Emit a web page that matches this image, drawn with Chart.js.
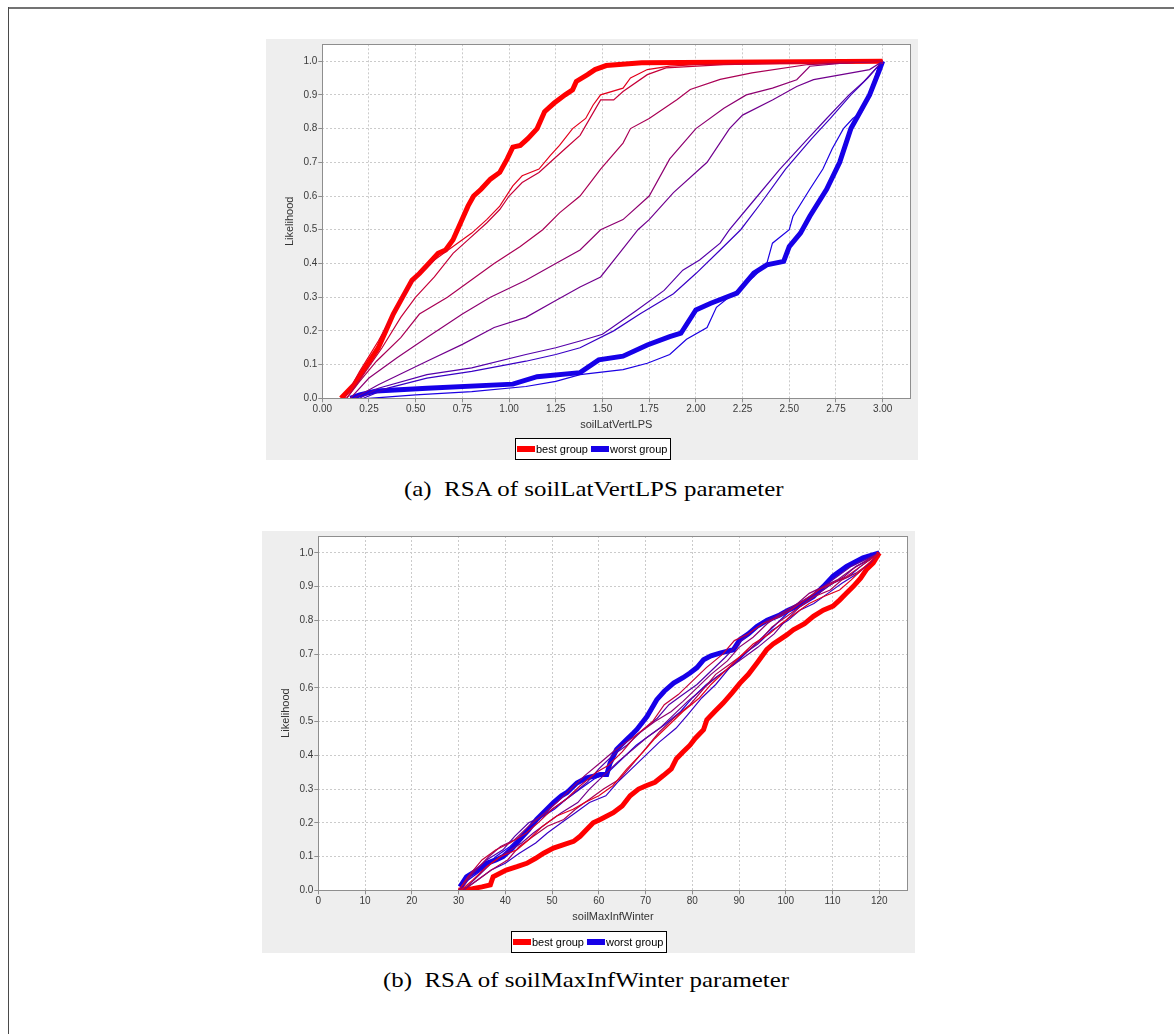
<!DOCTYPE html>
<html>
<head>
<meta charset="utf-8">
<title>RSA plots</title>
<script src="https://cdn.jsdelivr.net/npm/chart.js@4.4.1/dist/chart.umd.min.js"></script>
<style>
  html, body { margin: 0; padding: 0; background: #ffffff; }
  body { width: 1174px; height: 1034px; position: relative; overflow: hidden; }
  .rule-top { position: absolute; left: 8px; top: 7px; width: 1166px; height: 2px; background: #737373; }
  .rule-left { position: absolute; left: 8px; top: 7px; width: 1px; height: 1027px; background: #4a4a4a; }
  .panel { position: absolute; }
  .panel canvas { display: block; }
  .cap { position: absolute; white-space: nowrap; font-family: "Liberation Serif", "Times New Roman", serif;
         font-size: 22px; line-height: 22px; color: #000; transform-origin: left top; }
</style>
</head>
<body>
<div class="rule-top"></div>
<div class="rule-left"></div>

<div class="panel" style="left:266px; top:39px;"><canvas id="chartA" width="652" height="421"></canvas></div>
<div class="cap" id="capA" style="top:478px;">(a)&nbsp; RSA of soilLatVertLPS parameter</div>

<div class="panel" style="left:262px; top:531px;"><canvas id="chartB" width="653" height="422"></canvas></div>
<div class="cap" id="capB" style="top:969px;">(b)&nbsp; RSA of soilMaxInfWinter parameter</div>

<script>
// ---------- Panel (a): soilLatVertLPS, cumulative likelihood per group ----------
const aXTitle = 'soilLatVertLPS';
const aBestX  = [0.10,0.17,0.24,0.30,0.34,0.38,0.43,0.48,0.52,0.57,0.62,0.66,0.70,0.74,0.78,0.81,0.85,0.90,0.95,0.99,1.02,1.06,1.10,1.15,1.19,1.24,1.30,1.34,1.36,1.42,1.46,1.52,1.71,3.00];
const aBestY  = [0,0.04,0.10,0.15,0.20,0.25,0.30,0.35,0.37,0.40,0.43,0.44,0.47,0.52,0.57,0.60,0.62,0.65,0.67,0.71,0.745,0.75,0.77,0.80,0.85,0.875,0.90,0.915,0.94,0.96,0.975,0.987,0.995,1.0];
const aWorstX = [0.15,0.20,0.29,0.56,1.02,1.15,1.38,1.48,1.61,1.74,1.86,1.92,2.00,2.08,2.22,2.31,2.38,2.47,2.50,2.56,2.61,2.70,2.77,2.83,2.88,2.93,2.98,3.00];
const aWorstY = [0,0.01,0.022,0.03,0.042,0.064,0.076,0.114,0.125,0.158,0.183,0.193,0.262,0.282,0.312,0.371,0.396,0.406,0.45,0.49,0.54,0.62,0.70,0.80,0.85,0.90,0.97,1.0];
const aG2X = [0.12,0.20,0.30,0.40,0.45,0.50,0.60,0.70,0.80,0.88,0.95,1.02,1.07,1.16,1.22,1.27,1.34,1.41,1.45,1.49,1.61,1.65,1.74,1.86,2.00,2.50,3.00];
const aG2Y = [0,0.08,0.17,0.27,0.32,0.36,0.41,0.45,0.49,0.53,0.57,0.63,0.66,0.68,0.72,0.75,0.80,0.83,0.87,0.90,0.92,0.95,0.975,0.985,0.99,0.995,1.0];
const aG3X = [0.13,0.22,0.32,0.42,0.50,0.60,0.70,0.78,0.88,0.95,1.00,1.07,1.16,1.22,1.30,1.38,1.49,1.56,1.61,1.74,1.84,2.15,3.00];
const aG3Y = [0,0.07,0.15,0.24,0.30,0.36,0.43,0.47,0.52,0.56,0.60,0.64,0.67,0.70,0.74,0.78,0.885,0.885,0.91,0.96,0.98,0.99,1.0];
const aG4X = [0.13,0.20,0.29,0.42,0.52,0.67,0.77,0.92,1.06,1.18,1.27,1.38,1.49,1.61,1.65,1.75,1.90,1.97,2.13,2.30,2.60,3.00];
const aG4Y = [0,0.05,0.11,0.18,0.25,0.30,0.34,0.40,0.45,0.50,0.55,0.60,0.68,0.757,0.80,0.83,0.886,0.916,0.946,0.965,0.99,1.0];
const aG5X = [0.15,0.25,0.40,0.56,0.75,0.90,1.09,1.25,1.38,1.49,1.61,1.75,1.86,2.00,2.15,2.27,2.41,2.54,2.61,2.80,3.00];
const aG5Y = [0,0.06,0.12,0.18,0.25,0.30,0.35,0.40,0.44,0.50,0.53,0.60,0.71,0.80,0.86,0.90,0.92,0.945,0.985,0.995,1.0];
const aG6X = [0.17,0.30,0.56,0.75,0.92,1.09,1.25,1.38,1.49,1.59,1.69,1.75,1.88,2.06,2.18,2.25,2.41,2.54,2.63,2.93,3.00];
const aG6Y = [0,0.04,0.11,0.16,0.21,0.24,0.29,0.33,0.36,0.43,0.50,0.53,0.61,0.70,0.80,0.84,0.885,0.925,0.945,0.975,1.0];
const aG7X = [0.20,0.30,0.56,0.80,1.09,1.25,1.38,1.50,1.68,1.83,1.93,2.02,2.13,2.18,2.30,2.45,2.60,2.70,2.82,2.90,3.00];
const aG7Y = [0,0.03,0.07,0.09,0.13,0.15,0.17,0.19,0.26,0.32,0.38,0.41,0.46,0.50,0.58,0.68,0.77,0.83,0.90,0.94,1.0];
const aG8X = [0.22,0.35,0.56,0.80,1.09,1.25,1.38,1.56,1.70,1.88,2.00,2.13,2.24,2.35,2.48,2.62,2.72,2.83,2.92,3.00];
const aG8Y = [0,0.03,0.06,0.08,0.11,0.13,0.15,0.20,0.25,0.31,0.37,0.44,0.50,0.58,0.68,0.77,0.83,0.90,0.95,1.0];
const aG9X = [0.25,0.50,0.80,1.09,1.25,1.38,1.61,1.74,1.86,1.95,2.06,2.11,2.20,2.31,2.38,2.41,2.50,2.52,2.61,2.68,2.73,2.79,2.84,2.89,2.93,2.98,3.00];
const aG9Y = [0,0.01,0.02,0.035,0.05,0.07,0.085,0.104,0.13,0.175,0.21,0.27,0.31,0.36,0.40,0.46,0.50,0.54,0.62,0.68,0.74,0.80,0.83,0.85,0.90,0.99,1.0];

// ---------- Panel (b): soilMaxInfWinter ----------
const bXTitle = 'soilMaxInfWinter';
const bBestX  = [30,33,35,36.8,37.4,40.2,42.5,44.6,46.5,48.2,50.3,52.5,54.6,56,57.4,58.8,60.3,63.1,65,66.7,68.5,70.1,72,73.8,75.5,76.6,78,79.5,80.6,82.4,83.1,84.8,86.6,88.5,90.2,92,93.8,95.9,97.3,98.7,100.2,101.6,104,105.9,108,110.1,111.5,113,114.4,116,117.2,118.7,120];
const bBestY  = [0,0.005,0.01,0.016,0.04,0.06,0.07,0.08,0.095,0.11,0.125,0.135,0.145,0.16,0.18,0.20,0.21,0.23,0.25,0.28,0.30,0.31,0.32,0.34,0.36,0.39,0.41,0.43,0.45,0.476,0.505,0.53,0.555,0.585,0.614,0.64,0.673,0.713,0.73,0.743,0.757,0.772,0.79,0.812,0.83,0.842,0.86,0.881,0.90,0.925,0.95,0.97,1.0];
const bWorstX = [30.3,31.7,34,36,38,39.5,41.5,43.1,45,46.7,48.5,50.3,52,53.2,55.3,57.4,58.9,60.3,61.7,62.4,63.8,65.9,67.4,68.1,70.3,72.4,74,76,78,79.5,81,82.4,84,85.9,88.8,90.2,92,93.8,96,98.7,100.5,102.3,104,105.9,108,110.1,113,116.5,120];
const bWorstY = [0.01,0.04,0.06,0.08,0.09,0.10,0.125,0.15,0.18,0.21,0.235,0.26,0.28,0.29,0.318,0.333,0.338,0.343,0.343,0.377,0.417,0.446,0.466,0.476,0.515,0.565,0.59,0.614,0.63,0.644,0.66,0.683,0.695,0.703,0.713,0.743,0.76,0.782,0.80,0.816,0.83,0.841,0.855,0.871,0.90,0.931,0.96,0.985,1.0];
const bG2X = [30.5,33,36,39,42.5,45,48,51,54.5,57,60,63,66,69.5,72,75,78,81.5,84,87,90,93,96.5,99,102,105,108,111.5,114,117,120];
const bG2Y = [0,0.03,0.07,0.10,0.12,0.15,0.19,0.22,0.24,0.26,0.28,0.31,0.36,0.41,0.45,0.49,0.53,0.57,0.61,0.65,0.69,0.73,0.76,0.79,0.82,0.85,0.87,0.89,0.92,0.96,1.0];
const bG3X = [30,32,35,38,41,44.5,47,50,53,56,59.5,62,65,68,71.5,74,77,80,83,86.5,89,92,95,98.5,101,104,107,110,113,116,120];
const bG3Y = [0,0.04,0.09,0.12,0.14,0.17,0.20,0.24,0.27,0.31,0.35,0.37,0.41,0.46,0.50,0.55,0.58,0.62,0.66,0.70,0.74,0.76,0.79,0.81,0.83,0.86,0.89,0.91,0.93,0.96,1.0];
const bG4X = [31,34,37,40.5,43,46,49,52.5,55,58,61,64.5,67,70,73,76,79.5,82,85,88,91,94.5,97,100,103,106,109.5,112,115,118,120];
const bG4Y = [0,0.03,0.06,0.09,0.13,0.16,0.19,0.21,0.24,0.27,0.30,0.33,0.37,0.42,0.47,0.51,0.55,0.59,0.64,0.67,0.70,0.74,0.78,0.81,0.84,0.87,0.89,0.92,0.94,0.97,1.0];
const bG5X = [30,33,36.5,39,42,45,48.5,51,54,57,60.5,63,66,69,72,75.5,78,81,84,87.5,90,93,96,99,102.5,105,108,111,114,117.5,120];
const bG5Y = [0,0.05,0.10,0.13,0.15,0.19,0.23,0.26,0.30,0.34,0.38,0.41,0.44,0.47,0.50,0.53,0.56,0.60,0.64,0.68,0.72,0.75,0.79,0.82,0.85,0.88,0.90,0.92,0.95,0.98,1.0];
const bG6X = [31,34,37,40,43.5,46,49,52,55.5,58,61,64,67.5,70,73,76,79,82.5,85,88,91,94,97.5,100,103,106,109,112.5,115,118,120];
const bG6Y = [0,0.04,0.08,0.11,0.14,0.17,0.20,0.23,0.26,0.30,0.34,0.38,0.42,0.45,0.48,0.52,0.56,0.60,0.63,0.66,0.69,0.72,0.76,0.80,0.84,0.87,0.90,0.93,0.96,0.98,1.0];
const bG7X = [30.5,33,36,39.5,42,45,48,51,54,57.5,60,63,66,69,72.5,75,78,81,84,87,90.5,93,96,99,102,105.5,108,111,114,117,120];
const bG7Y = [0,0.05,0.09,0.12,0.16,0.20,0.22,0.25,0.28,0.32,0.36,0.40,0.43,0.47,0.51,0.55,0.58,0.61,0.65,0.69,0.74,0.77,0.80,0.82,0.84,0.87,0.90,0.93,0.96,0.98,1.0];
const bG8X = [31,34,37,40,43,46.5,49,52,55,58,61.5,64,67,70,73,76.5,79,82,85,88,91,94,97,100.5,103,106,109,112,115.5,118,120];
const bG8Y = [0,0.03,0.06,0.08,0.11,0.14,0.17,0.20,0.23,0.26,0.28,0.32,0.36,0.40,0.44,0.48,0.52,0.57,0.61,0.66,0.70,0.73,0.77,0.80,0.83,0.85,0.88,0.91,0.94,0.97,1.0];
const bG9X = [30,32,35,38,41,44,47,50.5,53,56,59,62,65,68,71,74,77.5,80,83,86,89,92,95,98,101,104,107,110,113.5,116,120];
const bG9Y = [0,0.03,0.06,0.10,0.13,0.17,0.21,0.24,0.27,0.30,0.33,0.35,0.39,0.43,0.46,0.49,0.53,0.57,0.61,0.64,0.67,0.71,0.75,0.79,0.83,0.86,0.88,0.91,0.93,0.96,1.0];

// Legend labels and group colours (best = red, worst = blue, intermediate groups blend)
const bestLabel  = 'best group';
const worstLabel = 'worst group';
const yTitle = 'Likelihood';
const BEST_COLOR  = 'rgb(255,0,0)';
const WORST_COLOR = 'rgb(22,0,232)';
const GROUP_COLORS = ['rgb(227,0,28)','rgb(198,0,57)','rgb(170,0,85)','rgb(142,0,113)',
                      'rgb(113,0,142)','rgb(85,0,170)','rgb(57,0,198)','rgb(28,0,227)'];

const SANS = "'Liberation Sans', Arial, Helvetica, sans-serif";

function toPoints(xs, ys) { return xs.map((x, i) => ({ x: x, y: ys[i] })); }

function makeDatasets(groups, best, worst) {
  const sets = [];
  groups.forEach((g, i) => sets.push({
    data: toPoints(g[0], g[1]), borderColor: GROUP_COLORS[i], borderWidth: 1.2
  }));
  sets.push({ label: bestLabel,  legend: true, data: toPoints(best[0], best[1]),   borderColor: BEST_COLOR,  borderWidth: 5 });
  sets.push({ label: worstLabel, legend: true, data: toPoints(worst[0], worst[1]), borderColor: WORST_COLOR, borderWidth: 5 });
  return sets;
}

// Grey panel, white plot area, plot outline and a boxed legend underneath
const panelPlugin = {
  id: 'panelFrame',
  beforeDraw(chart) {
    const { ctx, chartArea: a, width, height } = chart;
    ctx.save();
    ctx.fillStyle = '#eeeeee';
    ctx.fillRect(0, 0, width, height);
    ctx.fillStyle = '#ffffff';
    ctx.fillRect(a.left, a.top, a.right - a.left, a.bottom - a.top);
    ctx.restore();
  },
  afterDraw(chart) {
    const { ctx, chartArea: a, width, height } = chart;
    ctx.save();
    ctx.strokeStyle = '#8e8e8e';
    ctx.lineWidth = 1;
    ctx.strokeRect(Math.round(a.left) + 0.5, Math.round(a.top) + 0.5,
                   Math.round(a.right - a.left), Math.round(a.bottom - a.top));

    const items = chart.data.datasets.filter(d => d.legend);
    ctx.font = '11px ' + SANS;
    const sw = 18, pad = 2, gap = 1, sep = 3;
    let total = pad;
    items.forEach(d => { total += sw + gap + ctx.measureText(d.label).width + sep; });
    total = Math.round(total);
    const bh = 21;
    const bx = Math.round(width / 2 - total / 2);
    const by = height - bh - 1;
    ctx.fillStyle = '#ffffff';
    ctx.fillRect(bx, by, total, bh);
    ctx.strokeStyle = '#000000';
    ctx.strokeRect(bx + 0.5, by + 0.5, total, bh);
    let x = bx + pad;
    const cy = by + bh / 2 + 0.5;
    ctx.textBaseline = 'middle';
    items.forEach(d => {
      ctx.fillStyle = d.borderColor;
      ctx.fillRect(x, cy - 3, sw, 6);
      x += sw + gap;
      ctx.fillStyle = '#000000';
      ctx.fillText(d.label, x, cy + 0.5);
      x += ctx.measureText(d.label).width + sep;
    });
    ctx.restore();
  }
};

function makeChart(canvasId, opts) {
  const tickFont = { family: SANS, size: 10 };
  const titleFont = { family: SANS, size: 11 };
  return new Chart(document.getElementById(canvasId), {
    type: 'scatter',
    data: { datasets: opts.datasets },
    plugins: [panelPlugin],
    options: {
      responsive: false,
      devicePixelRatio: 1,
      animation: false,
      events: [],
      layout: { padding: opts.padding },
      elements: {
        point: { radius: 0, hoverRadius: 0 },
        line: { tension: 0, fill: false, borderJoinStyle: 'miter', borderCapStyle: 'butt' }
      },
      datasets: { scatter: { showLine: true } },
      plugins: { legend: { display: false }, tooltip: { enabled: false } },
      scales: {
        x: {
          type: 'linear', min: opts.xMin, max: opts.xMax,
          afterFit: s => { s.height = opts.xAxisHeight; s.paddingLeft = 0; s.paddingRight = 0; },
          ticks: {
            stepSize: opts.xStep, includeBounds: false, autoSkip: false, maxRotation: 0,
            padding: 1, color: '#3a3a3a', font: tickFont, callback: opts.xFormat
          },
          grid: { color: '#cbcbcb', lineWidth: 1, tickLength: 4, tickColor: '#8e8e8e', tickBorderDash: [] },
          border: { display: false, dash: [2, 2] },
          title: { display: true, text: opts.xTitle, color: '#333333', font: titleFont, padding: { top: 0, bottom: 0 } }
        },
        y: {
          type: 'linear', min: 0, max: 1.05,
          afterFit: s => { s.width = opts.yAxisWidth; s.paddingTop = 0; s.paddingBottom = 0; },
          ticks: {
            stepSize: 0.1, includeBounds: false, autoSkip: false,
            padding: 1, color: '#3a3a3a', font: tickFont, callback: v => v.toFixed(1)
          },
          grid: { color: '#cbcbcb', lineWidth: 1, tickLength: 4, tickColor: '#8e8e8e', tickBorderDash: [] },
          border: { display: false, dash: [2, 2] },
          title: { display: true, text: yTitle, color: '#333333', font: titleFont, padding: { top: opts.yTitleOffset, bottom: 0 } }
        }
      }
    }
  });
}

makeChart('chartA', {
  datasets: makeDatasets(
    [[aG2X, aG2Y], [aG3X, aG3Y], [aG4X, aG4Y], [aG5X, aG5Y], [aG6X, aG6Y], [aG7X, aG7Y], [aG8X, aG8Y], [aG9X, aG9Y]],
    [aBestX, aBestY], [aWorstX, aWorstY]),
  padding: { left: 0, top: 5.3, right: 7.7, bottom: 28.7 },
  xMin: 0, xMax: 3.148, xStep: 0.25, xFormat: v => v.toFixed(2),
  xAxisHeight: 33, yAxisWidth: 56.3, yTitleOffset: 17.4, xTitle: aXTitle
});

makeChart('chartB', {
  datasets: makeDatasets(
    [[bG2X, bG2Y], [bG3X, bG3Y], [bG4X, bG4Y], [bG5X, bG5Y], [bG6X, bG6Y], [bG7X, bG7Y], [bG8X, bG8Y], [bG9X, bG9Y]],
    [bBestX, bBestY], [bWorstX, bWorstY]),
  padding: { left: 0, top: 5, right: 7.3, bottom: 29.7 },
  xMin: 0, xMax: 126.07, xStep: 10, xFormat: v => String(Math.round(v)),
  xAxisHeight: 33, yAxisWidth: 56.3, yTitleOffset: 17.4, xTitle: bXTitle
});

// Sub-figure captions: stretch to the caption width of the typeset figure
(function placeCaptions() {
  const capA = document.getElementById('capA');
  const capB = document.getElementById('capB');
  const k = 379 / capA.offsetWidth;
  [[capA, 593.5], [capB, 586]].forEach(([el, cx]) => {
    el.style.transform = 'scaleX(' + k + ')';
    el.style.left = (cx - el.offsetWidth * k / 2) + 'px';
  });
})();
</script>
</body>
</html>
